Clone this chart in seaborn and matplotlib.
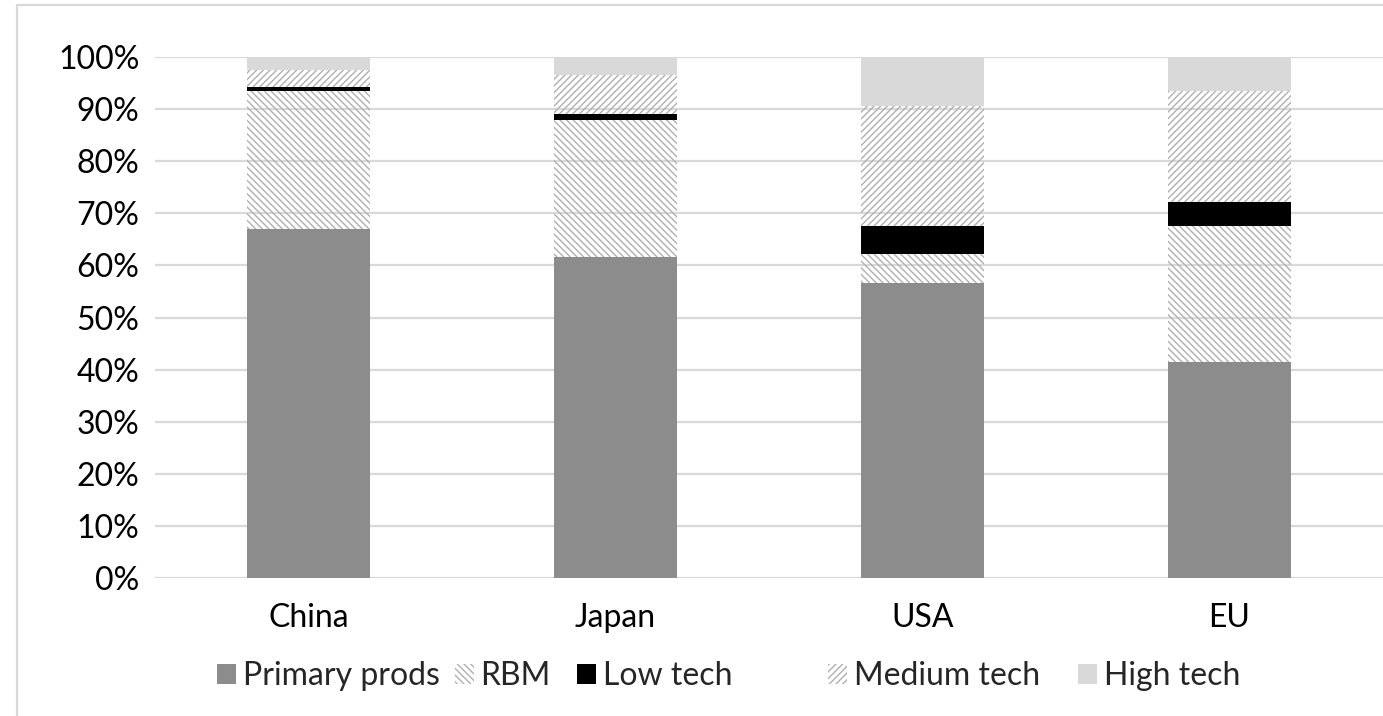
import matplotlib
matplotlib.use("Agg")
import matplotlib.pyplot as plt
import matplotlib.patches as mpatches
import numpy as np
import pandas as pd
import seaborn as sns

# Export structure shares by destination (percent of total)
regions = ["China", "Japan", "USA", "EU"]
primary_prods = [67.0, 61.6, 56.6, 41.5]
rbm = [26.6, 26.4, 5.6, 26.1]
low_tech = [0.6, 1.1, 5.4, 4.6]
medium_tech = [3.3, 7.4, 23.0, 21.3]
high_tech = [2.5, 3.5, 9.4, 6.5]

series_names = ["Primary prods", "RBM", "Low tech", "Medium tech", "High tech"]
series_values = [primary_prods, rbm, low_tech, medium_tech, high_tech]
y_ticks = list(range(0, 101, 10))

HATCH_GREY = "#b0b0b0"
styles = {
    "Primary prods": dict(facecolor="#8c8c8c", edgecolor="#8c8c8c", hatch=None),
    "RBM": dict(facecolor="none", edgecolor=HATCH_GREY, hatch="\\" * 5),
    "Low tech": dict(facecolor="#000000", edgecolor="#000000", hatch=None),
    "Medium tech": dict(facecolor="none", edgecolor=HATCH_GREY, hatch="/" * 5),
    "High tech": dict(facecolor="#d9d9d9", edgecolor="#d9d9d9", hatch=None),
}

sns.set_theme(style="white")
plt.rcParams["font.family"] = ["Lato", "DejaVu Sans"]
plt.rcParams["hatch.linewidth"] = 1.0

fig = plt.figure(figsize=(13.83, 7.16), dpi=100)
ax = fig.add_axes([0.112, 0.193, 0.888, 0.727])

bottom = np.zeros(len(regions))
for name, vals in zip(series_names, series_values):
    df = pd.DataFrame({"region": regions, "share": vals})
    st = styles[name]
    bars_before = len(ax.patches)
    sns.barplot(
        data=df, x="region", y="share", order=regions, ax=ax,
        bottom=bottom.copy(), width=0.4, errorbar=None,
        color=st["edgecolor"], saturation=1, linewidth=0, zorder=2,
    )
    for p in ax.patches[bars_before:]:
        p.set_facecolor(st["facecolor"])
        p.set_edgecolor(st["edgecolor"])
        p.set_linewidth(0)
        if st["hatch"]:
            p.set_hatch(st["hatch"])
    bottom += np.array(vals)

ax.set_xlim(-0.5, len(regions) - 0.5)
ax.set_ylim(0, 100)
ax.set_yticks(y_ticks)
ax.set_yticklabels([f"{t}%" for t in y_ticks])
ax.yaxis.grid(True, color="#d9d9d9", linewidth=1.6, zorder=0)
ax.set_axisbelow(True)
ax.set_xlabel("")
ax.set_ylabel("")
for s in ax.spines.values():
    s.set_visible(False)
ax.tick_params(axis="both", length=0, labelsize=23, colors="black")
ax.tick_params(axis="y", pad=11)
ax.tick_params(axis="x", pad=18)

# legend entries laid out one by one along the bottom
legend_x = [217, 455, 577, 828, 1078]
for name, x0 in zip(series_names, legend_x):
    st = styles[name]
    h = mpatches.Patch(
        facecolor=st["facecolor"] if st["facecolor"] != "none" else "white",
        edgecolor=st["edgecolor"], hatch=st["hatch"], linewidth=0, label=name)
    fig.legend(handles=[h], loc="center left",
               bbox_to_anchor=(x0 / 1383, 1 - 676 / 716),
               frameon=False, fontsize=23, handlelength=0.58,
               handleheight=0.58, handletextpad=0.22, borderpad=0,
               borderaxespad=0)

# light chart-area frame
fig.patches.append(mpatches.Rectangle(
    (17 / 1383, -0.1), 1.2, 1.1 - 5 / 716, transform=fig.transFigure,
    fill=False, edgecolor="#d9d9d9", linewidth=1.6))

fig.savefig("out.png", dpi=100)
